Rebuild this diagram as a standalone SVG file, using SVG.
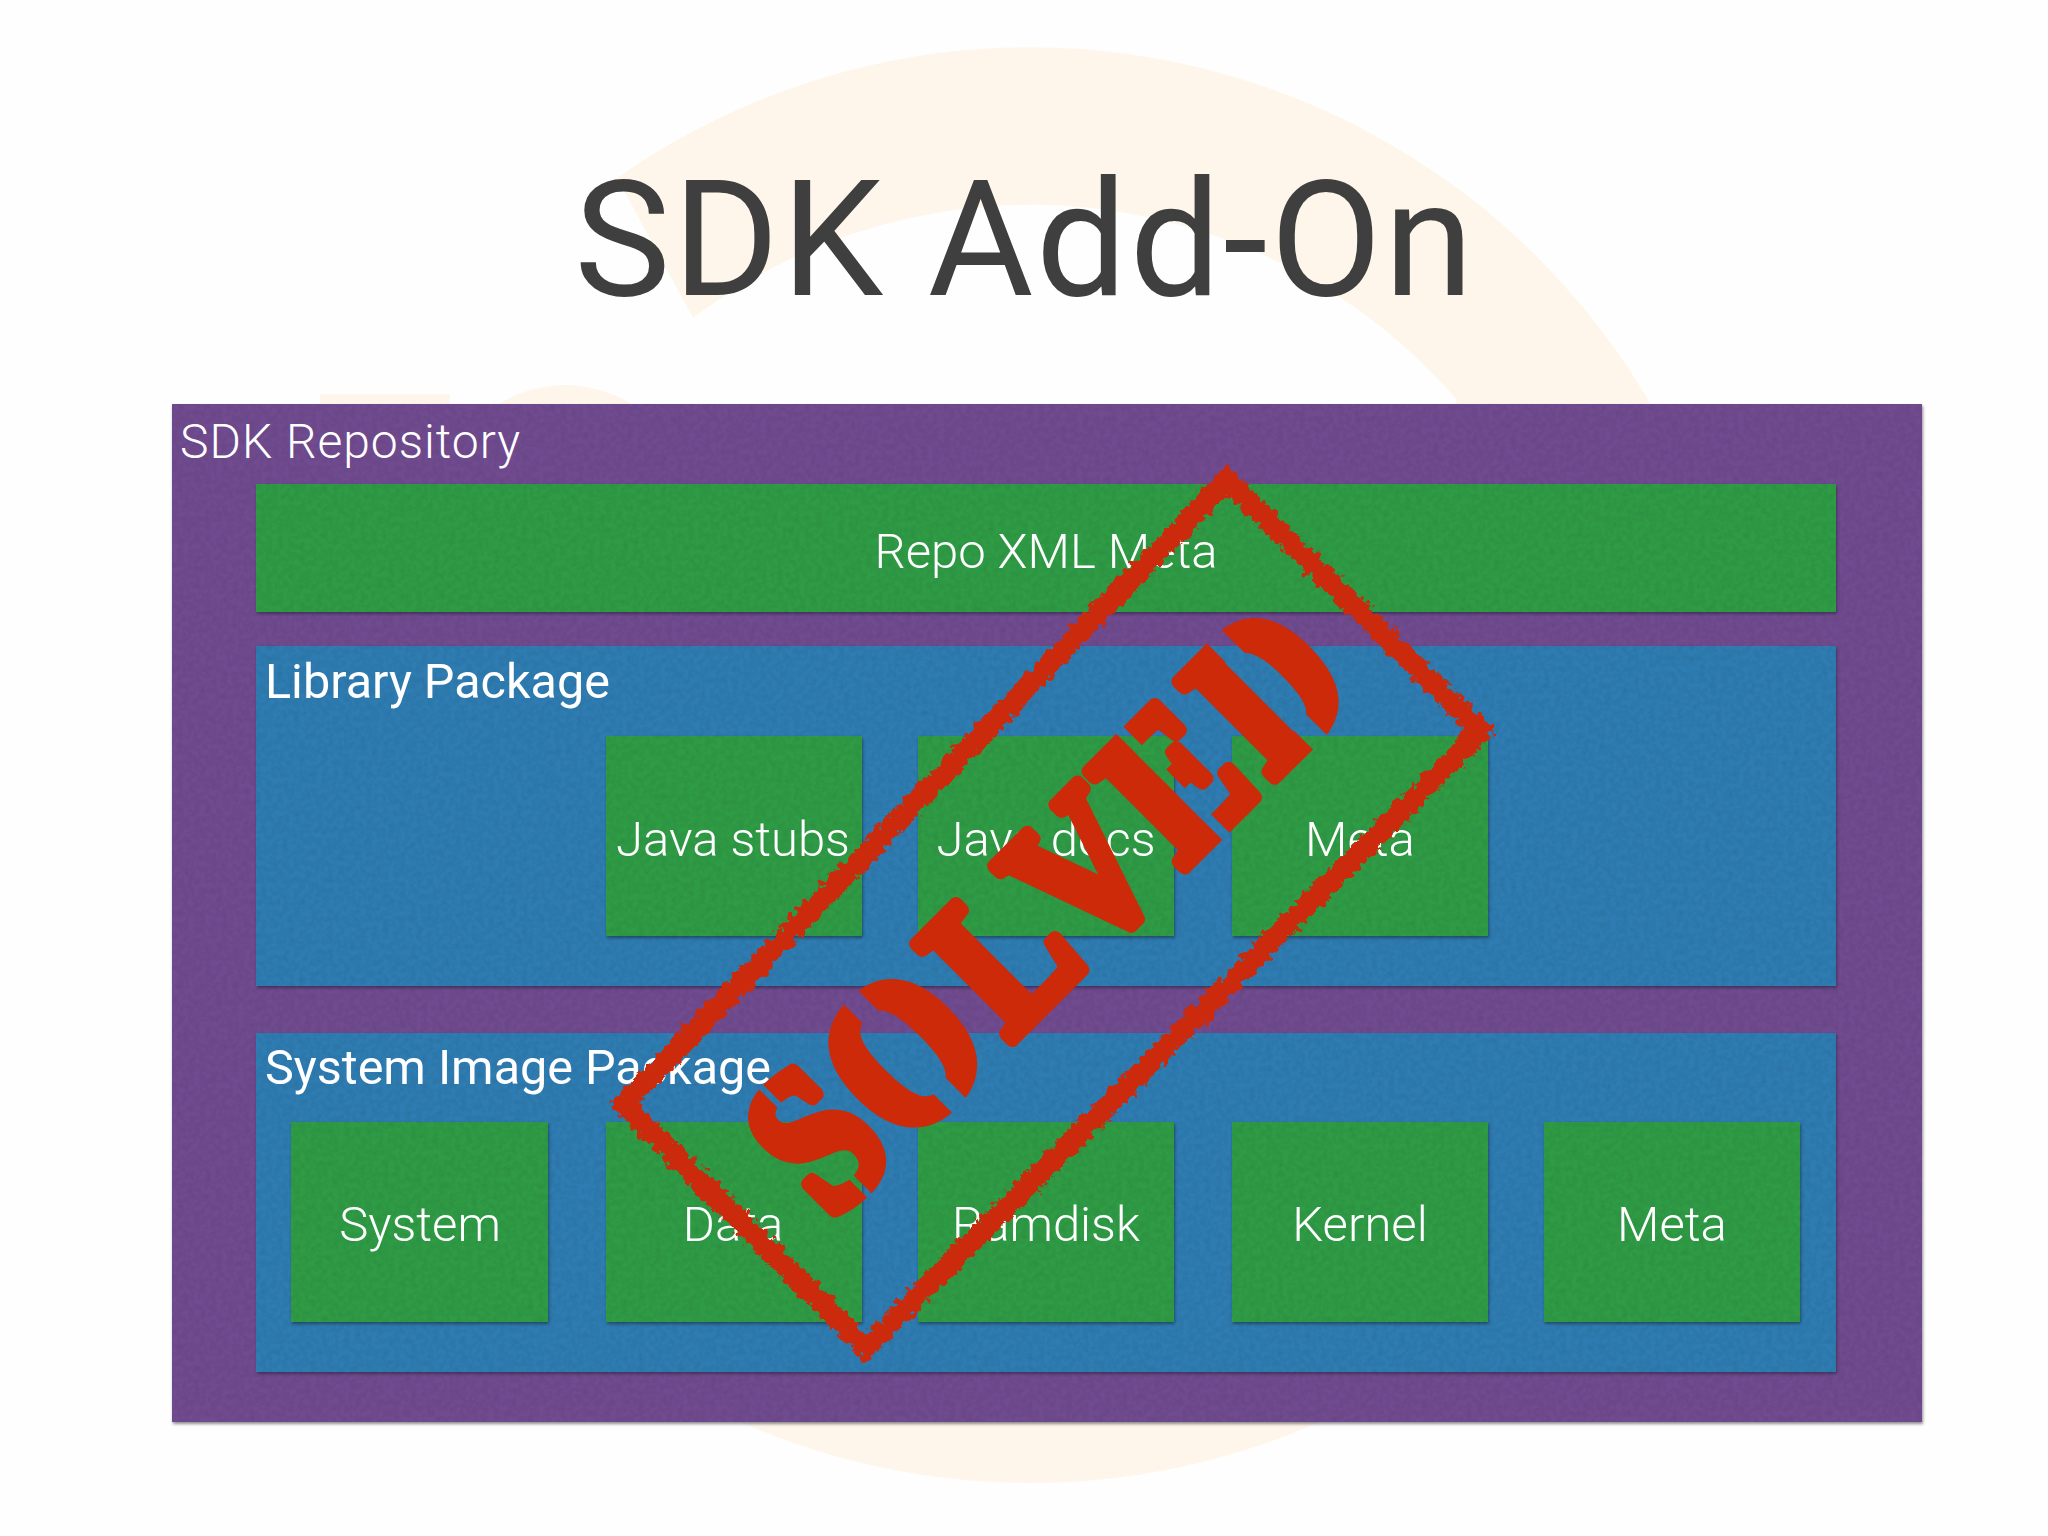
<svg xmlns="http://www.w3.org/2000/svg" width="2048" height="1536" viewBox="0 0 2048 1536">
<defs>
<style>
.ring{fill:#fff6eb}
.purple{fill:#704b8f}
.green{fill:#2f9b45}
.blue{fill:#2e7cb1}
.paper{filter:url(#paper)}
text{fill:#fff}
.lbl{font-family:Roboto,"Liberation Sans",sans-serif;font-weight:300;font-size:49px;text-anchor:middle}
.head{font-family:Roboto,"Liberation Sans",sans-serif;font-weight:400;font-size:48.5px}
</style>
<filter id="paper" x="-2%" y="-3%" width="104%" height="106%" color-interpolation-filters="sRGB">
<feTurbulence type="fractalNoise" baseFrequency="0.18" numOctaves="3" seed="4" result="n"/>
<feColorMatrix in="n" type="matrix" values="0 0 0 0 0.05 0 0 0 0 0.05 0 0 0 0 0.1 0.16 0 0 0 -0.06" result="d"/>
<feComposite in="d" in2="SourceAlpha" operator="in" result="tex"/>
<feGaussianBlur in="SourceAlpha" stdDeviation="1.6"/>
<feOffset dx="1" dy="2" result="o"/>
<feFlood flood-color="#1a1a2a" flood-opacity="0.5"/>
<feComposite in2="o" operator="in" result="sh"/>
<feMerge><feMergeNode in="sh"/><feMergeNode in="SourceGraphic"/><feMergeNode in="tex"/></feMerge>
</filter>
<filter id="rough" x="-5%" y="-5%" width="110%" height="110%">
<feTurbulence type="fractalNoise" baseFrequency="0.14" numOctaves="4" seed="7" result="t"/>
<feDisplacementMap in="SourceGraphic" in2="t" scale="15" xChannelSelector="R" yChannelSelector="G"/>
</filter>
<mask id="stencil" maskUnits="userSpaceOnUse" x="-60" y="-260" width="900" height="340">
<rect x="-60" y="-260" width="900" height="340" fill="#fff"/>
<g fill="#000">
<rect x="38" y="-170" width="6" height="48"/>
<rect x="38" y="-30" width="6" height="50"/>
<rect x="158" y="-170" width="20" height="190"/>
<rect x="542" y="-170" width="10" height="190"/>
<rect x="670" y="-170" width="20" height="190"/>
</g>
</mask>
</defs>

<rect width="2048" height="1536" fill="#fefefe"/>

<g id="background">
<path class="ring" d="M693 318L617 178A718 718 0 0 1 1650 403L1650 420L1449 420L1457 400A562 562 0 0 0 693 318Z"/>
<path class="ring" d="M695 1400A718 718 0 0 0 1365 1400Z"/>
<rect class="ring" x="320" y="394" width="130" height="20"/>
<path class="ring" d="M490 410C510 394 540 385 565 385C590 385 620 394 640 410Z"/>
</g>

<g id="title"><text x="1025" y="295" text-anchor="middle" style="font-family:Roboto,'Liberation Sans',sans-serif;font-size:162px;letter-spacing:2.3px;fill:#3f3f3f">SDK Add-On</text></g>

<g id="sdk-repository">
<rect class="purple paper" x="172" y="404" width="1750" height="1018"/>
<text x="180" y="458" style="font-family:Roboto,'Liberation Sans',sans-serif;font-weight:300;font-size:48px;letter-spacing:1px">SDK Repository</text>
</g>

<g id="repo-xml-meta">
<rect class="green paper" x="256" y="484" width="1580" height="128"/>
<text class="lbl" x="1046" y="568">Repo XML Meta</text>
</g>

<g id="library-package">
<rect class="blue paper" x="256" y="646" width="1580" height="340"/>
<text class="head" x="265" y="698">Library Package</text>
</g>
<g id="java-stubs"><rect class="green paper" x="606" y="736" width="256" height="200"/><text class="lbl" x="733" y="856">Java stubs</text></g>
<g id="java-docs"><rect class="green paper" x="918" y="736" width="256" height="200"/><text class="lbl" x="1046" y="856">Java docs</text></g>
<g id="lib-meta"><rect class="green paper" x="1232" y="736" width="256" height="200"/><text class="lbl" x="1360" y="856">Meta</text></g>

<g id="system-image-package">
<rect class="blue paper" x="256" y="1033" width="1580" height="339"/>
<text class="head" x="265" y="1084">System Image Package</text>
</g>
<g id="system"><rect class="green paper" x="291" y="1122" width="257" height="200"/><text class="lbl" x="420" y="1241">System</text></g>
<g id="data"><rect class="green paper" x="606" y="1122" width="256" height="200"/><text class="lbl" x="733" y="1241">Data</text></g>
<g id="ramdisk"><rect class="green paper" x="918" y="1122" width="256" height="200"/><text class="lbl" x="1046" y="1241">Ramdisk</text></g>
<g id="kernel"><rect class="green paper" x="1232" y="1122" width="256" height="200"/><text class="lbl" x="1360" y="1241">Kernel</text></g>
<g id="sys-meta"><rect class="green paper" x="1544" y="1122" width="256" height="200"/><text class="lbl" x="1672" y="1241">Meta</text></g>

<g id="connectors"/>

<g id="solved-stamp">
<polygon points="1227,480 1481,731 866,1348 624,1104" fill="none" stroke="#cc2a08" stroke-width="21" stroke-linejoin="miter" stroke-miterlimit="8" filter="url(#rough)"/>
<g transform="translate(838 1222) rotate(-45)">
<g mask="url(#stencil)">
<text transform="scale(.83 1)" x="-5 119 299 433 593 746" y="-6" style="font-family:'Liberation Serif',serif;font-weight:700;font-size:206px;fill:#cc2a08;stroke:#cc2a08;stroke-width:15;stroke-linejoin:round">SOLVED</text>
</g>
</g>
</g>
</svg>
